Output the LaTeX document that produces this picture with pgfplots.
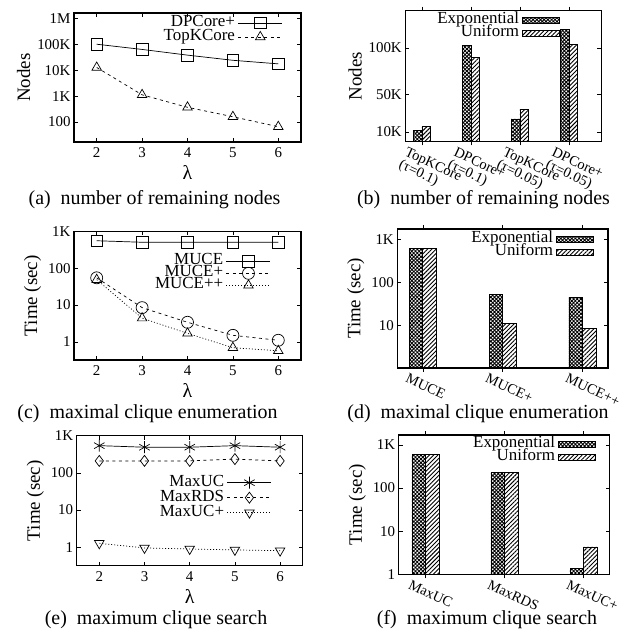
\documentclass[border=0pt]{standalone}
\usepackage{fontspec}
\setmainfont{Liberation Serif}
\usepackage{pgfplots}
\pgfplotsset{compat=1.18}
\usetikzlibrary{patterns.meta}

\pgfplotsset{
  myBase/.style={
    scale only axis, anchor=south west,
    axis line style={line width=1.2bp},
    tick align=inside, major tick length=4bp,
    tick style={line width=0.6bp, black},
    /pgf/number format/assume math mode=true,
    tick label style={font=\fontsize{15}{16}\selectfont},
    label style={font=\fontsize{19}{20}\selectfont},
    legend style={font=\fontsize{17}{18}\selectfont, draw=none, fill=none, anchor=north east,
      inner sep=0pt, nodes={inner ysep=0bp, inner xsep=3bp, text height=10bp, text depth=3bp}},
    legend cell align=right, legend plot pos=right,
  },
  myLine/.style={myBase, xmin=1.5, xmax=6.5, xtick={2,3,4,5,6}, xlabel={λ},
    xticklabel style={yshift=-2bp},
    xlabel style={yshift=-1bp, font=\fontsize{20}{20}\selectfont},
    legend image code/.code={\draw[mark repeat=2,mark phase=2,##1] plot coordinates {(0bp,0bp) (22bp,0bp) (44bp,0bp)};}},
  myBar/.style={myBase, ybar, xtick=data,
    xticklabel style={xshift=-14bp, yshift=-1bp, rotate=-25, anchor=north west, inner sep=0pt, align=left,
      font=\fontsize{14.5}{14}\selectfont}},
  expbar/.style={draw=black, line width=0.8bp,
    pattern={Hatch[angle=45,distance=2.6bp,line width=0.9bp]},
    legend image code/.code={\draw[##1] (0bp,-3bp) rectangle (37bp,3bp);}},
  unibar/.style={draw=black, line width=0.8bp,
    pattern={Lines[angle=45,distance=3bp,line width=0.9bp]},
    legend image code/.code={\draw[##1] (0bp,-3bp) rectangle (37bp,3bp);}},
  lA/.style={black, line width=0.7bp, solid},
  lB/.style={black, line width=0.7bp, dash pattern=on 3bp off 3.5bp},
  lC/.style={black, line width=0.7bp, dash pattern=on 1bp off 2bp},
}

\begin{document}
\begin{tikzpicture}
\path[use as bounding box] (0bp,0bp) rectangle (624bp,630bp);

% (a)
\begin{axis}[myLine, ymode=log, yminorticks=false, at={(74bp,488bp)}, width=227bp, height=129bp,
  ymin=17, ymax=1.6e6, ylabel={Nodes},
  ytick={100,1000,10000,100000,1000000}, yticklabels={100,1K,10K,100K,1M},
  legend style={at={(0.92,0.975)}, row sep=1bp}]
\addplot[lA, mark=square, mark size=5.8bp, mark options={solid}] coordinates {(2,100000)(3,63000)(4,38000)(5,24000)(6,17500)};
\addlegendentry{DPCore+}
\addplot[lB, mark=triangle, mark size=5.5bp, mark options={solid}] coordinates {(2,12700)(3,1120)(4,370)(5,160)(6,66)};
\addlegendentry{TopKCore}
\end{axis}

% (b)
\begin{axis}[myBar, at={(405.3bp,488.7bp)}, width=196bp, height=130.6bp,
  xmin=-0.34, xmax=3.66, ymin=0, ymax=140000, ylabel={Nodes},
  bar width=0.18,
  xticklabels={{TopKCore\\(τ=0.1)},{DPCore+\\(τ=0.1)},{TopKCore\\(τ=0.05)},{DPCore+\\(τ=0.05)}},
  ytick={10000,50000,100000}, yticklabels={10K,50K,100K}, scaled y ticks=false,
  legend style={at={(0.79,0.979)}, row sep=0bp}]
\addplot[expbar, bar shift=-0.09] coordinates {(0,12000)(1,102700)(2,24000)(3,120000)};
\addlegendentry{Exponential}
\addplot[unibar, bar shift=0.09] coordinates {(0,16300)(1,89600)(2,34500)(3,104000)};
\addlegendentry{Uniform}
\end{axis}

% (c)
\begin{axis}[myLine, ymode=log, yminorticks=false, at={(74bp,270bp)}, width=227bp, height=128.5bp,
  ymin=0.32, ymax=1000, ylabel={Time (sec)},
  ytick={1,10,100,1000}, yticklabels={1,10,100,1K},
  legend style={at={(0.868,0.82)}, row sep=-1bp}]
\addplot[lA, mark=square, mark size=5.8bp, mark options={solid}] coordinates {(2,560)(3,510)(4,510)(5,510)(6,510)};
\addlegendentry{MUCE}
\addplot[lB, mark=o, mark size=6bp, mark options={solid}] coordinates {(2,55)(3,8.5)(4,3.4)(5,1.5)(6,1.1)};
\addlegendentry{MUCE+}
\addplot[lC, mark=triangle, mark size=5.5bp, mark options={solid}] coordinates {(2,49)(3,4.4)(4,1.7)(5,0.69)(6,0.57)};
\addlegendentry{MUCE++}
\end{axis}

% (d)
\begin{axis}[myBar, ymode=log, log origin=infty, yminorticks=false, at={(397.3bp,262bp)}, width=210.7bp, height=139bp,
  xmin=-0.32, xmax=2.32, ymin=1, ymax=1750, ylabel={Time (sec)},
  bar width=0.17,
  xticklabels={MUCE,MUCE+,MUCE++},
  ytick={10,100,1000}, yticklabels={10,100,1K},
  legend style={at={(0.934,0.975)}, row sep=0bp}]
\addplot[expbar, bar shift=-0.085] coordinates {(0,620)(1,52)(2,45)};
\addlegendentry{Exponential}
\addplot[unibar, bar shift=0.085] coordinates {(0,620)(1,11)(2,8.2)};
\addlegendentry{Uniform}
\end{axis}

% (e)
\begin{axis}[myLine, ymode=log, yminorticks=false, at={(76.7bp,64.3bp)}, width=226bp, height=130bp,
  ymin=0.32, ymax=1000, ylabel={Time (sec)},
  ytick={1,10,100,1000}, yticklabels={1,10,100,1K},
  legend style={at={(0.864,0.69)}, row sep=2bp}]
\addplot[lA, mark=asterisk, mark size=6bp, mark options={solid}] coordinates {(2,540)(3,490)(4,490)(5,540)(6,490)};
\addlegendentry{MaxUC}
\addplot[lB, mark=diamond, mark size=5.5bp, mark options={solid}] coordinates {(2,210)(3,210)(4,210)(5,235)(6,210)};
\addlegendentry{MaxRDS}
\addplot[lC, mark=triangle, mark size=5.5bp, mark options={solid, rotate=180}] coordinates {(2,1.28)(3,0.96)(4,0.9)(5,0.85)(6,0.81)};
\addlegendentry{MaxUC+}
\end{axis}

% (f)
\begin{axis}[myBar, ymode=log, log origin=infty, yminorticks=false, at={(398.7bp,55.7bp)}, width=211bp, height=139.3bp,
  xmin=-0.34, xmax=2.33, ymin=1, ymax=1700, ylabel={Time (sec)},
  bar width=0.173,
  xticklabels={MaxUC,MaxRDS,MaxUC+},
  ytick={1,10,100,1000}, yticklabels={1,10,100,1K},
  legend style={at={(0.935,0.982)}, row sep=0bp}]
\addplot[expbar, bar shift=-0.0865] coordinates {(0,600)(1,227)(2,1.35)};
\addlegendentry{Exponential}
\addplot[unibar, bar shift=0.0865] coordinates {(0,600)(1,227)(2,4.3)};
\addlegendentry{Uniform}
\end{axis}

\begin{scope}[every node/.style={font=\fontsize{20}{22}\selectfont}]
\node at (154.5bp,430bp) {(a)\enspace number of remaining nodes};
\node at (483.5bp,430bp) {(b)\enspace number of remaining nodes};
\node at (147.5bp,216bp) {(c)\enspace maximal clique enumeration};
\node at (478bp,216bp) {(d)\enspace maximal clique enumeration};
\node at (156bp,10bp) {(e)\enspace maximum clique search};
\node at (487bp,10bp) {(f)\enspace maximum clique search};
\end{scope}
\end{tikzpicture}
\end{document}
